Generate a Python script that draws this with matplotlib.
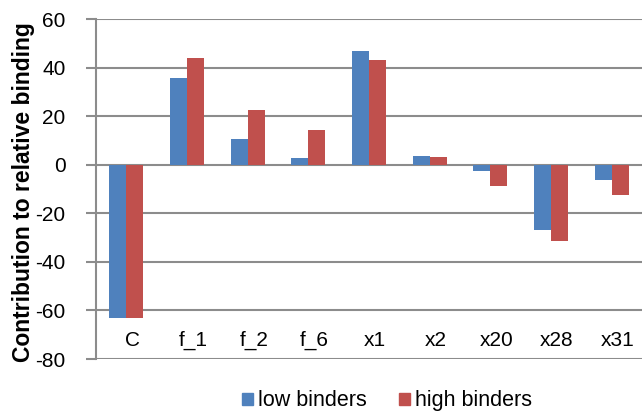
import numpy as np
import matplotlib.pyplot as plt
from matplotlib.patches import Patch
from matplotlib.ticker import FuncFormatter

plt.rcParams['font.family'] = ['Liberation Sans', 'DejaVu Sans']
plt.rcParams['axes.unicode_minus'] = False

# contribution of each term to relative binding
terms = ['C', 'f_1', 'f_2', 'f_6', 'x1', 'x2', 'x20', 'x28', 'x31']
low_binders = [-63.2, 35.7, 10.7, 2.9, 46.9, 3.4, -2.4, -26.7, -6.3]
high_binders = [-63.2, 43.9, 22.7, 14.5, 43.0, 3.1, -8.6, -31.4, -12.6]
series_names = ['low binders', 'high binders']
y_ticks = [-80, -60, -40, -20, 0, 20, 40, 60]

blue = '#4f81bd'
red = '#c0504d'
grid_col = '#8c8c8c'

fig = plt.figure(figsize=(6.42, 4.15), dpi=100)
ax = fig.add_axes([96 / 642, 56 / 415, 546 / 642, 340 / 415])

x = np.arange(len(terms))
w = 0.28
ax.bar(x - w / 2, low_binders, w, color=blue, zorder=3)
ax.bar(x + w / 2, high_binders, w, color=red, zorder=3)

ax.set_xlim(-0.5, len(terms) - 0.5)
ax.set_ylim(-80, 60)
ax.set_yticks(y_ticks)
ax.yaxis.set_major_formatter(FuncFormatter(lambda v, p: f'{int(v)}'))
for v in y_ticks:
    ax.axhline(v, color=grid_col, lw=1.5, zorder=1)

for s in ['top', 'right', 'bottom']:
    ax.spines[s].set_visible(False)
ax.spines['left'].set_color(grid_col)
ax.spines['left'].set_linewidth(1.5)
ax.tick_params(axis='y', length=7, width=1.5, color=grid_col, pad=15,
               labelsize=15, labelcolor='black')
ax.set_xticks([])

# category labels sit inside the plot, just above the bottom line
for i, t in enumerate(terms):
    ax.text(i + 0.1, -72.2, t, ha='center', va='center', fontsize=15)

fig.text(24 / 642, 0.536, 'Contribution to relative binding', rotation=90,
         ha='center', va='center', fontsize=16.5, fontweight='bold')

handles = [Patch(color=blue), Patch(color=red)]
fig.legend(handles, series_names, loc='center', bbox_to_anchor=(0.603, 0.034),
           ncol=2, frameon=False, fontsize=15.5, handlelength=0.5,
           handleheight=0.5, handletextpad=0.25, columnspacing=1.5,
           borderpad=0)

fig.savefig('out.png', dpi=100)
